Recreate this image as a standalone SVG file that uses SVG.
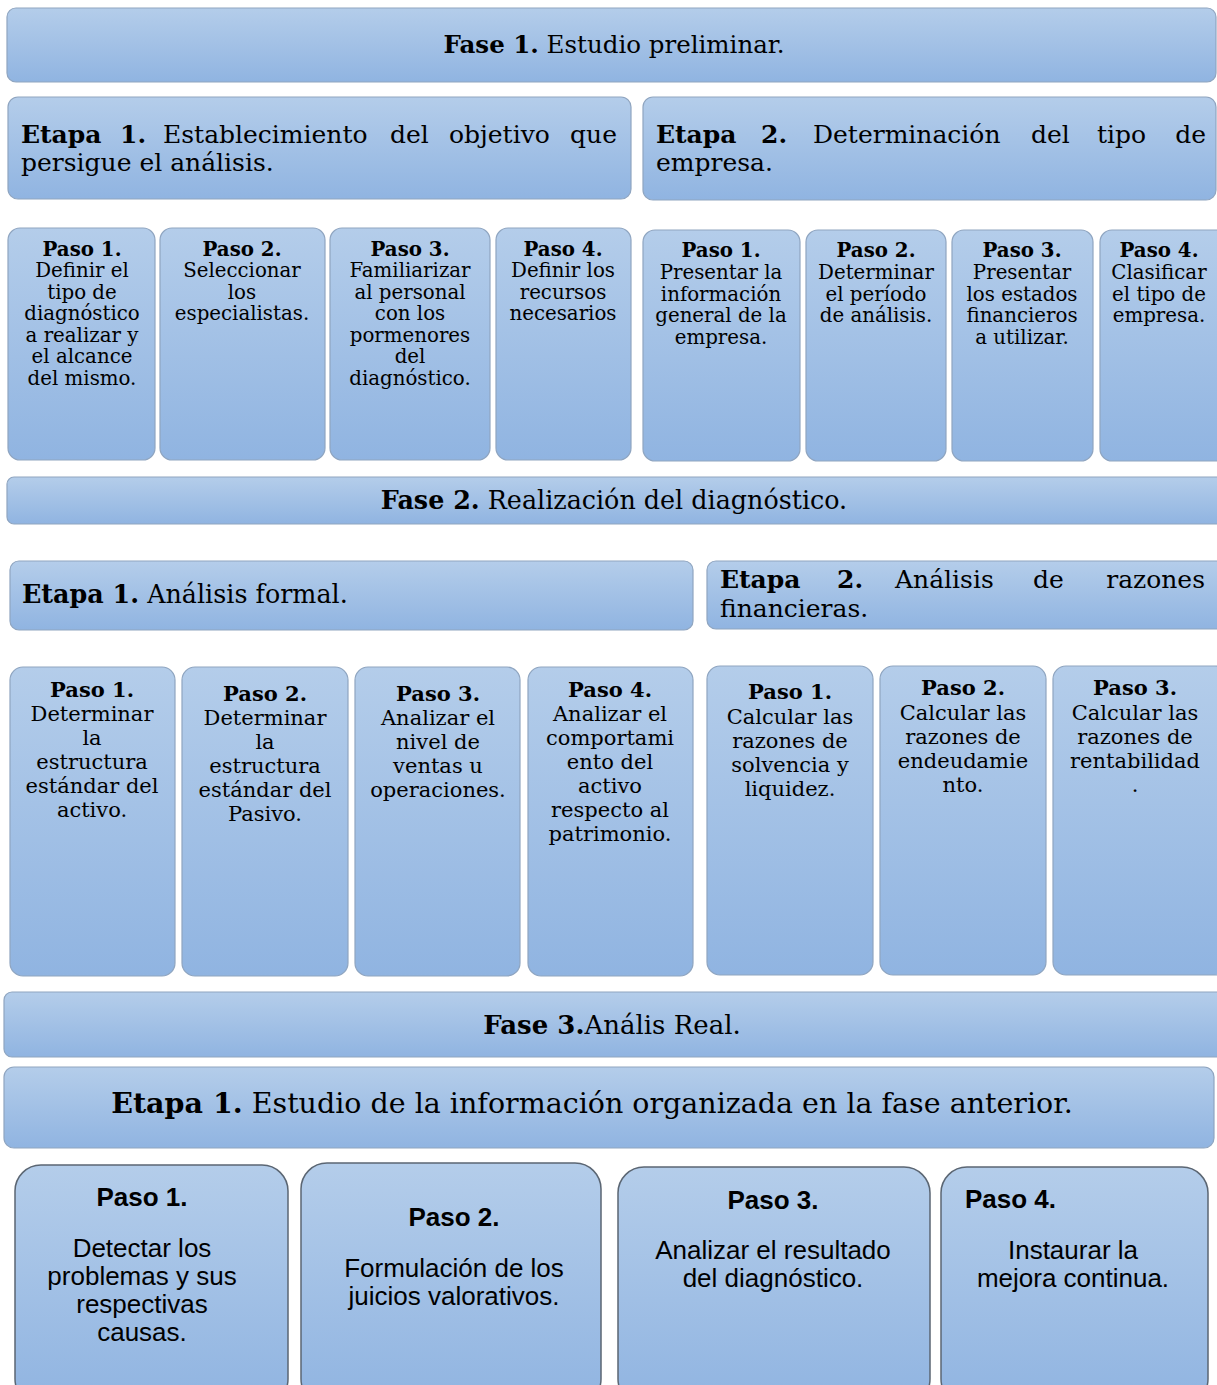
<svg xmlns="http://www.w3.org/2000/svg" width="1217" height="1385" viewBox="0 0 1217 1385">
<defs>
<linearGradient id="g" x1="0" y1="0" x2="0" y2="1">
<stop offset="0" stop-color="#b4cdea"/>
<stop offset="1" stop-color="#90b4e1"/>
</linearGradient>
<style>
.box{fill:url(#g);stroke:#8fa5c0;stroke-width:1.2}
.box2{fill:url(#g);stroke:#5b6673;stroke-width:1.5}
.s{font-family:"DejaVu Serif","Liberation Serif",serif;fill:#000}
.a{font-family:"Liberation Sans",Arial,sans-serif;fill:#000}
.b{font-weight:bold}
.c{text-anchor:middle}
.e{text-anchor:end}
.f24{font-size:24.5px}
.f25{font-size:25px}
.f253{font-size:25.4px}
.f19{font-size:19.8px}
.f21{font-size:21px}
.f26{font-size:26px}
.f28{font-size:28.5px}
</style>
</defs>
<rect width="1217" height="1385" fill="#ffffff"/>

<g id="fase1">
<rect class="box" x="7" y="8" width="1209" height="74" rx="9"/>
<text class="s f24 c" x="614" y="53"><tspan class="b">Fase 1.</tspan> Estudio preliminar.</text>
</g>

<g id="f1-etapa1">
<rect class="box" x="8" y="97" width="623" height="102" rx="10"/>
<text class="s f25" y="143"><tspan class="b" x="21">Etapa</tspan><tspan class="b" x="120">1.</tspan><tspan x="163">Establecimiento</tspan><tspan x="390">del</tspan><tspan x="449">objetivo</tspan></text>
<text class="s f25 e" x="617" y="143">que</text>
<text class="s f25" x="21" y="171">persigue el análisis.</text>
</g>

<g id="f1-etapa2">
<rect class="box" x="643" y="97" width="573" height="103" rx="10"/>
<text class="s f25" y="143"><tspan class="b" x="656">Etapa</tspan><tspan class="b" x="761">2.</tspan><tspan x="813">Determinación</tspan><tspan x="1031">del</tspan><tspan x="1097">tipo</tspan></text>
<text class="s f25 e" x="1206" y="143">de</text>
<text class="s f25" x="656" y="171">empresa.</text>
</g>

<g id="f1-e1-paso1">
<rect class="box" x="8" y="228" width="147" height="232" rx="12"/>
<text class="s f19 c" x="82"><tspan class="b" x="82" y="256">Paso 1.</tspan><tspan x="82" y="277">Definir el</tspan><tspan x="82" y="298.5">tipo de</tspan><tspan x="82" y="320">diagnóstico</tspan><tspan x="82" y="341.5">a realizar y</tspan><tspan x="82" y="363">el alcance</tspan><tspan x="82" y="384.5">del mismo.</tspan></text>
</g>
<g id="f1-e1-paso2">
<rect class="box" x="160" y="228" width="165" height="232" rx="12"/>
<text class="s f19 c" x="242"><tspan class="b" x="242" y="256">Paso 2.</tspan><tspan x="242" y="277">Seleccionar</tspan><tspan x="242" y="298.5">los</tspan><tspan x="242" y="320">especialistas.</tspan></text>
</g>
<g id="f1-e1-paso3">
<rect class="box" x="330" y="228" width="160" height="232" rx="12"/>
<text class="s f19 c" x="410"><tspan class="b" x="410" y="256">Paso 3.</tspan><tspan x="410" y="277">Familiarizar</tspan><tspan x="410" y="298.5">al personal</tspan><tspan x="410" y="320">con los</tspan><tspan x="410" y="341.5">pormenores</tspan><tspan x="410" y="363">del</tspan><tspan x="410" y="384.5">diagnóstico.</tspan></text>
</g>
<g id="f1-e1-paso4">
<rect class="box" x="496" y="228" width="135" height="232" rx="12"/>
<text class="s f19 c" x="563"><tspan class="b" x="563" y="256">Paso 4.</tspan><tspan x="563" y="277">Definir los</tspan><tspan x="563" y="298.5">recursos</tspan><tspan x="563" y="320">necesarios</tspan></text>
</g>

<g id="f1-e2-paso1">
<rect class="box" x="643" y="230" width="157" height="231" rx="12"/>
<text class="s f19 c" x="721"><tspan class="b" x="721" y="257">Paso 1.</tspan><tspan x="721" y="279">Presentar la</tspan><tspan x="721" y="300.5">información</tspan><tspan x="721" y="322">general de la</tspan><tspan x="721" y="343.5">empresa.</tspan></text>
</g>
<g id="f1-e2-paso2">
<rect class="box" x="806" y="230" width="140" height="231" rx="12"/>
<text class="s f19 c" x="876"><tspan class="b" x="876" y="257">Paso 2.</tspan><tspan x="876" y="279">Determinar</tspan><tspan x="876" y="300.5">el período</tspan><tspan x="876" y="322">de análisis.</tspan></text>
</g>
<g id="f1-e2-paso3">
<rect class="box" x="952" y="230" width="141" height="231" rx="12"/>
<text class="s f19 c" x="1022"><tspan class="b" x="1022" y="257">Paso 3.</tspan><tspan x="1022" y="279">Presentar</tspan><tspan x="1022" y="300.5">los estados</tspan><tspan x="1022" y="322">financieros</tspan><tspan x="1022" y="343.5">a utilizar.</tspan></text>
</g>
<g id="f1-e2-paso4">
<rect class="box" x="1100" y="230" width="130" height="231" rx="12"/>
<text class="s f19 c" x="1159"><tspan class="b" x="1159" y="257">Paso 4.</tspan><tspan x="1159" y="279">Clasificar</tspan><tspan x="1159" y="300.5">el tipo de</tspan><tspan x="1159" y="322">empresa.</tspan></text>
</g>

<g id="fase2">
<rect class="box" x="7" y="477" width="1220" height="47" rx="7"/>
<text class="s f253 c" x="614" y="509"><tspan class="b">Fase 2.</tspan> Realización del diagnóstico.</text>
</g>

<g id="f2-etapa1">
<rect class="box" x="10" y="561" width="683" height="69" rx="9"/>
<text class="s f253" x="22" y="603"><tspan class="b">Etapa 1.</tspan> Análisis formal.</text>
</g>

<g id="f2-etapa2">
<rect class="box" x="707" y="561" width="520" height="68" rx="9"/>
<text class="s f25" y="588"><tspan class="b" x="720">Etapa</tspan><tspan class="b" x="837">2.</tspan><tspan x="895">Análisis</tspan><tspan x="1033">de</tspan></text>
<text class="s f25 e" x="1205" y="588">razones</text>
<text class="s f25" x="720" y="617">financieras.</text>
</g>

<g id="f2-e1-paso1">
<rect class="box" x="10" y="667" width="165" height="309" rx="13"/>
<text class="s f21 c" x="92"><tspan class="b" x="92" y="697">Paso 1.</tspan><tspan x="92" y="721">Determinar</tspan><tspan x="92" y="745">la</tspan><tspan x="92" y="769">estructura</tspan><tspan x="92" y="793">estándar del</tspan><tspan x="92" y="817">activo.</tspan></text>
</g>
<g id="f2-e1-paso2">
<rect class="box" x="182" y="667" width="166" height="309" rx="13"/>
<text class="s f21 c" x="265"><tspan class="b" x="265" y="701">Paso 2.</tspan><tspan x="265" y="725">Determinar</tspan><tspan x="265" y="749">la</tspan><tspan x="265" y="773">estructura</tspan><tspan x="265" y="797">estándar del</tspan><tspan x="265" y="821">Pasivo.</tspan></text>
</g>
<g id="f2-e1-paso3">
<rect class="box" x="355" y="667" width="165" height="309" rx="13"/>
<text class="s f21 c" x="438"><tspan class="b" x="438" y="701">Paso 3.</tspan><tspan x="438" y="725">Analizar el</tspan><tspan x="438" y="749">nivel de</tspan><tspan x="438" y="773">ventas u</tspan><tspan x="438" y="797">operaciones.</tspan></text>
</g>
<g id="f2-e1-paso4">
<rect class="box" x="528" y="667" width="165" height="309" rx="13"/>
<text class="s f21 c" x="610"><tspan class="b" x="610" y="697">Paso 4.</tspan><tspan x="610" y="721">Analizar el</tspan><tspan x="610" y="745">comportami</tspan><tspan x="610" y="769">ento del</tspan><tspan x="610" y="793">activo</tspan><tspan x="610" y="817">respecto al</tspan><tspan x="610" y="841">patrimonio.</tspan></text>
</g>

<g id="f2-e2-paso1">
<rect class="box" x="707" y="666" width="166" height="309" rx="13"/>
<text class="s f21 c" x="790"><tspan class="b" x="790" y="699">Paso 1.</tspan><tspan x="790" y="724">Calcular las</tspan><tspan x="790" y="748">razones de</tspan><tspan x="790" y="772">solvencia y</tspan><tspan x="790" y="796">liquidez.</tspan></text>
</g>
<g id="f2-e2-paso2">
<rect class="box" x="880" y="666" width="166" height="309" rx="13"/>
<text class="s f21 c" x="963"><tspan class="b" x="963" y="695">Paso 2.</tspan><tspan x="963" y="720">Calcular las</tspan><tspan x="963" y="744">razones de</tspan><tspan x="963" y="768">endeudamie</tspan><tspan x="963" y="792">nto.</tspan></text>
</g>
<g id="f2-e2-paso3">
<rect class="box" x="1053" y="666" width="175" height="309" rx="13"/>
<text class="s f21 c" x="1135"><tspan class="b" x="1135" y="695">Paso 3.</tspan><tspan x="1135" y="720">Calcular las</tspan><tspan x="1135" y="744">razones de</tspan><tspan x="1135" y="768">rentabilidad</tspan><tspan x="1135" y="792">.</tspan></text>
</g>

<g id="fase3">
<rect class="box" x="4" y="992" width="1225" height="65" rx="8"/>
<text class="s f26 c" x="612" y="1034"><tspan class="b">Fase 3.</tspan>Anális Real.</text>
</g>

<g id="f3-etapa1">
<rect class="box" x="4" y="1067" width="1210" height="81" rx="10"/>
<text class="s f28 c" x="592" y="1113"><tspan class="b">Etapa 1.</tspan> Estudio de la información organizada en la fase anterior.</text>
</g>

<g id="f3-paso1">
<rect class="box2" x="15" y="1165" width="273" height="240" rx="26"/>
<text class="a f26 c" x="142"><tspan class="b" x="142" y="1206">Paso 1.</tspan><tspan x="142" y="1257">Detectar los</tspan><tspan x="142" y="1285">problemas y sus</tspan><tspan x="142" y="1313">respectivas</tspan><tspan x="142" y="1341">causas.</tspan></text>
</g>
<g id="f3-paso2">
<rect class="box2" x="301" y="1163" width="300" height="242" rx="26"/>
<text class="a f26 c" x="454"><tspan class="b" x="454" y="1226">Paso 2.</tspan><tspan x="454" y="1277">Formulación de los</tspan><tspan x="454" y="1305">juicios valorativos.</tspan></text>
</g>
<g id="f3-paso3">
<rect class="box2" x="618" y="1167" width="312" height="238" rx="26"/>
<text class="a f26 c" x="773"><tspan class="b" x="773" y="1209">Paso 3.</tspan><tspan x="773" y="1259">Analizar el resultado</tspan><tspan x="773" y="1287">del diagnóstico.</tspan></text>
</g>
<g id="f3-paso4">
<rect class="box2" x="941" y="1167" width="267" height="238" rx="26"/>
<text class="a f26 b" x="965" y="1208">Paso 4.</text>
<text class="a f26 c" x="1073"><tspan x="1073" y="1259">Instaurar la</tspan><tspan x="1073" y="1287">mejora continua.</tspan></text>
</g>

<g id="connectors"/>
</svg>
